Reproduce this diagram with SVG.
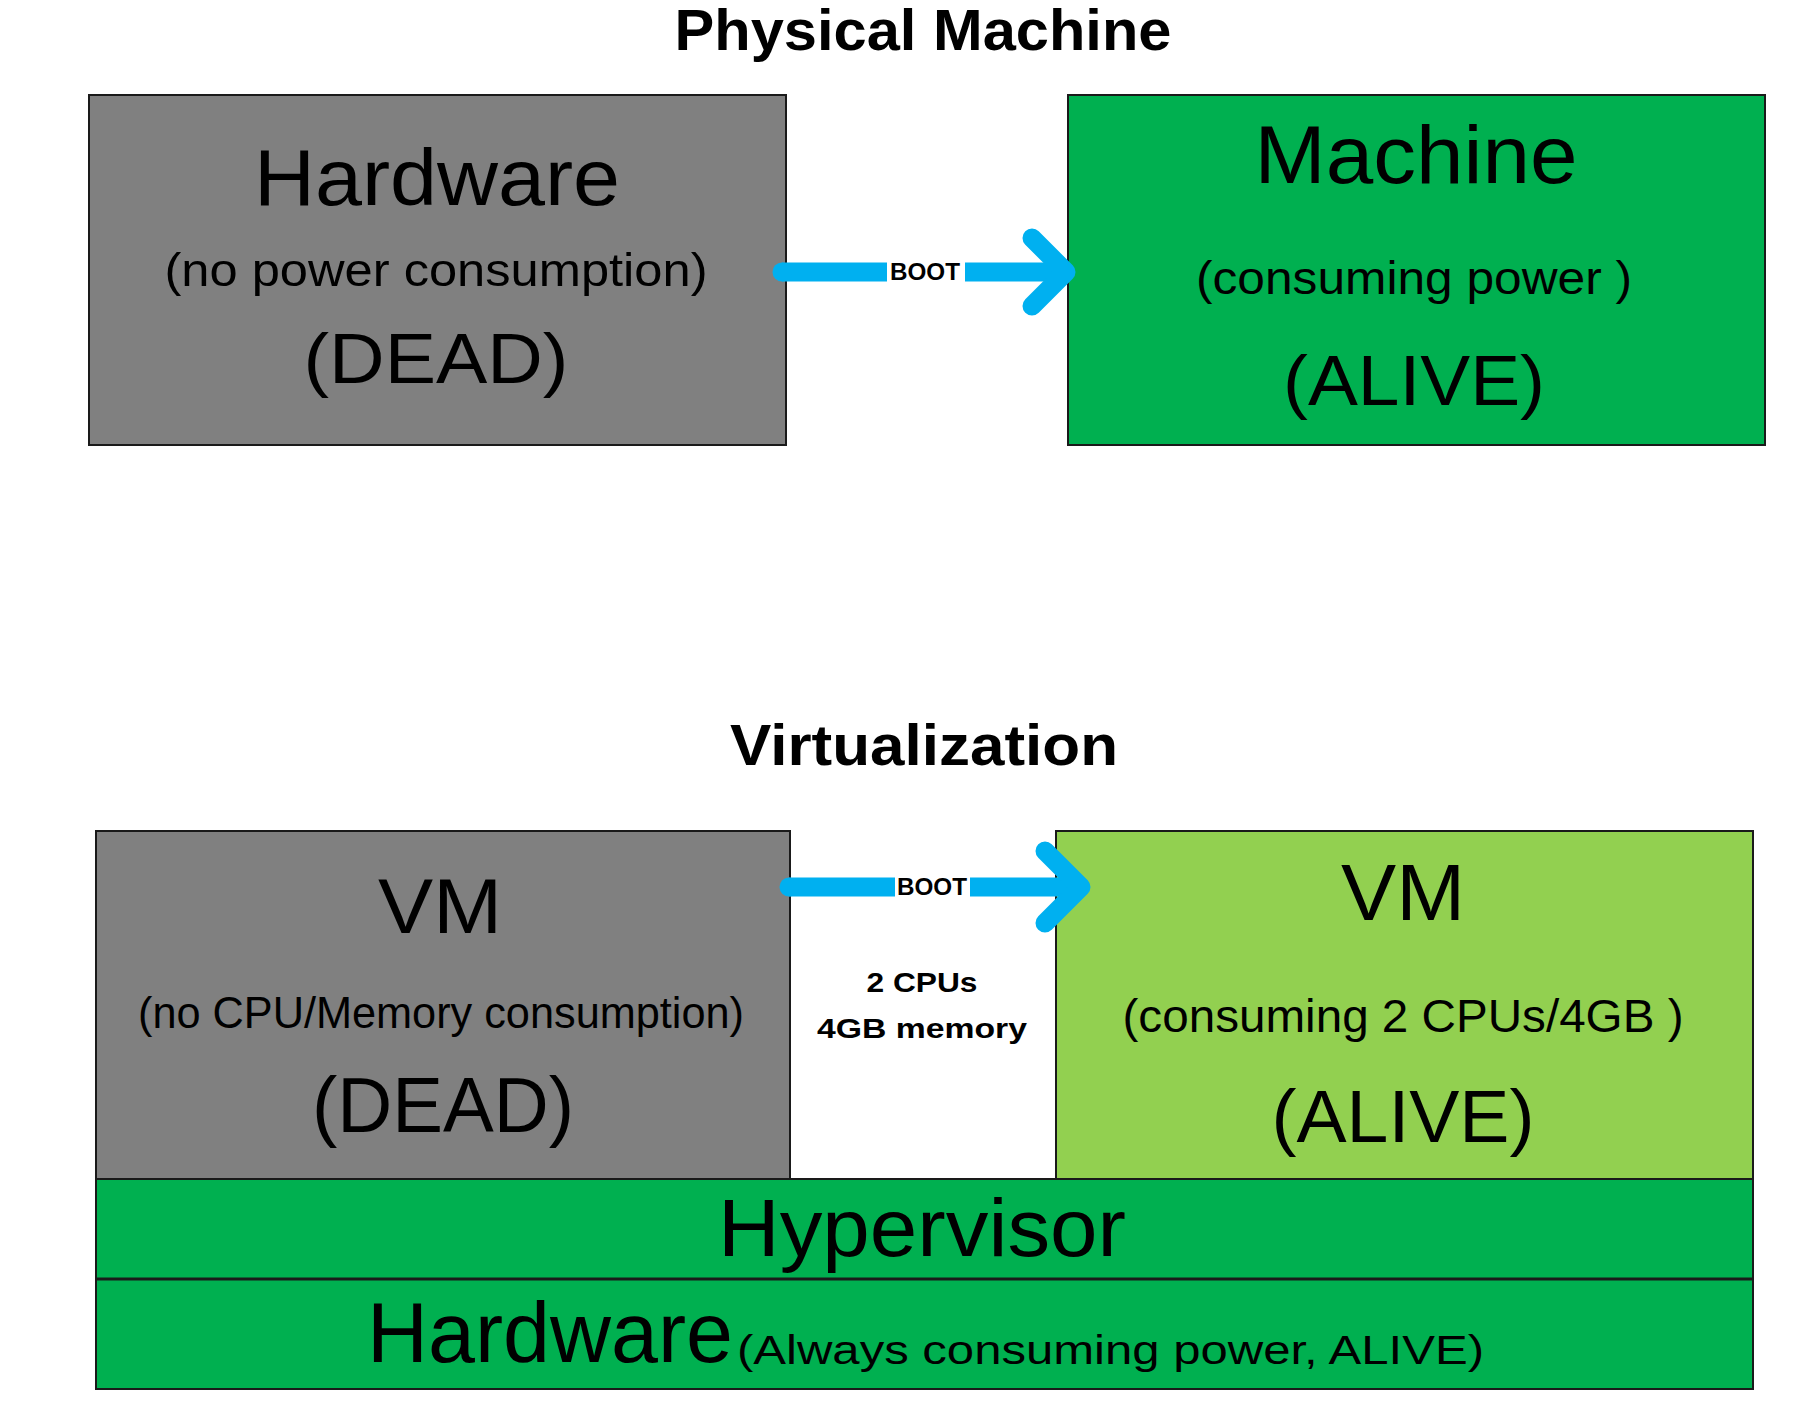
<svg xmlns="http://www.w3.org/2000/svg" width="1810" height="1422" viewBox="0 0 1810 1422">
<style>
.t{font-family:"Liberation Sans",Arial,sans-serif;fill:#000;text-anchor:middle}
.b{font-weight:bold}
.box{stroke:#1a1a1a;stroke-width:2}
.gray{fill:#808080}
.green{fill:#00b050}
.lgreen{fill:#92d050}
.arr{fill:none;stroke:#00b0f0;stroke-width:19}
.head{fill:none;stroke:#00b0f0;stroke-width:19;stroke-linecap:round;stroke-linejoin:round}
</style>
<rect width="1810" height="1422" fill="#fff"/>
<text class="t b" x="923" y="50" font-size="58" textLength="497" lengthAdjust="spacingAndGlyphs">Physical Machine</text>
<text class="t b" x="924" y="765" font-size="58" textLength="388" lengthAdjust="spacingAndGlyphs">Virtualization</text>
<g id="hw-dead">
<rect class="box gray" x="89" y="95" width="697" height="350"/>
<text class="t" x="437" y="205" font-size="80" textLength="366" lengthAdjust="spacingAndGlyphs">Hardware</text>
<text class="t" x="436" y="286" font-size="46" textLength="543" lengthAdjust="spacingAndGlyphs">(no power consumption)</text>
<text class="t" x="436" y="383" font-size="70" textLength="265" lengthAdjust="spacingAndGlyphs">(DEAD)</text>
</g>
<g id="machine-alive">
<rect class="box green" x="1068" y="95" width="697" height="350"/>
<text class="t" x="1416" y="183" font-size="81" textLength="323" lengthAdjust="spacingAndGlyphs">Machine</text>
<text class="t" x="1414" y="294" font-size="46" textLength="436" lengthAdjust="spacingAndGlyphs">(consuming power )</text>
<text class="t" x="1414" y="405" font-size="70" textLength="262" lengthAdjust="spacingAndGlyphs">(ALIVE)</text>
</g>
<g id="vm-dead">
<rect class="box gray" x="96" y="831" width="694" height="348"/>
<text class="t" x="440" y="933" font-size="77" textLength="124" lengthAdjust="spacingAndGlyphs">VM</text>
<text class="t" x="441" y="1028" font-size="45" textLength="606" lengthAdjust="spacingAndGlyphs">(no CPU/Memory consumption)</text>
<text class="t" x="443" y="1132" font-size="77" textLength="262" lengthAdjust="spacingAndGlyphs">(DEAD)</text>
</g>
<g id="vm-alive">
<rect class="box lgreen" x="1056" y="831" width="697" height="348"/>
<text class="t" x="1403" y="920" font-size="79" textLength="124" lengthAdjust="spacingAndGlyphs">VM</text>
<text class="t" x="1403" y="1032" font-size="46" textLength="561" lengthAdjust="spacingAndGlyphs">(consuming 2 CPUs/4GB )</text>
<text class="t" x="1403" y="1142" font-size="75" textLength="263" lengthAdjust="spacingAndGlyphs">(ALIVE)</text>
</g>
<g id="resources">
<text class="t b" x="922" y="992" font-size="28" textLength="111" lengthAdjust="spacingAndGlyphs">2 CPUs</text>
<text class="t b" x="922" y="1038" font-size="28" textLength="210" lengthAdjust="spacingAndGlyphs">4GB memory</text>
</g>
<g id="hypervisor">
<rect class="box green" x="96" y="1179" width="1657" height="100"/>
<text class="t" x="922" y="1256" font-size="81" textLength="408" lengthAdjust="spacingAndGlyphs">Hypervisor</text>
</g>
<g id="hw-alive">
<rect class="box green" x="96" y="1279" width="1657" height="110"/>
<line x1="96" y1="1279" x2="1753" y2="1279" stroke="#1a1a1a" stroke-width="3"/>
<text class="t" x="367" y="1362" font-size="86" textLength="366" lengthAdjust="spacingAndGlyphs" style="text-anchor:start">Hardware</text>
<text class="t" x="737" y="1364" font-size="40" textLength="747" lengthAdjust="spacingAndGlyphs" style="text-anchor:start">(Always consuming power, ALIVE)</text>
</g>
<g id="connectors">
<path class="arr" d="M782 272 H887 M965 272 H1060"/>
<circle cx="782" cy="272" r="9.5" fill="#00b0f0"/>
<path class="head" d="M1032 238 L1066 272 L1032 306"/>
<text class="t b" x="925" y="280" font-size="24" textLength="70" lengthAdjust="spacingAndGlyphs" fill="#222">BOOT</text>
<path class="arr" d="M789 887 H895 M970 887 H1075"/>
<circle cx="789" cy="887" r="9.5" fill="#00b0f0"/>
<path class="head" d="M1045 851 L1081 887 L1045 923"/>
<text class="t b" x="932" y="895" font-size="24" textLength="70" lengthAdjust="spacingAndGlyphs" fill="#222">BOOT</text>
</g>
</svg>
